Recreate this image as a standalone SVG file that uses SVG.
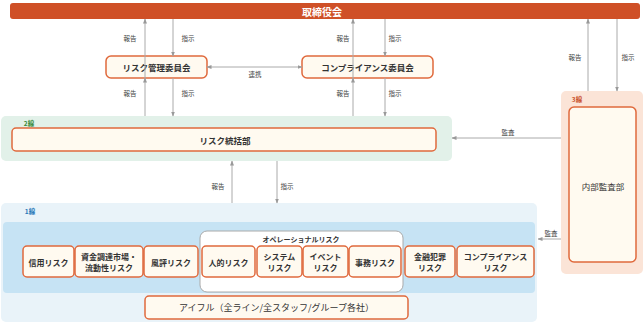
<svg xmlns="http://www.w3.org/2000/svg" width="643" height="324" viewBox="0 0 643 324">
<defs>
<style>
text{font-family:"Noto Sans CJK JP","Noto Sans",sans-serif;text-anchor:middle;dominant-baseline:central;fill:#333}
.box{fill:#fffaf0;stroke:#e0693c;stroke-width:1.5}
.lbl{font-size:6.5px;fill:#444}
.bt{font-size:8.5px;font-weight:700}
.rt{font-size:8px;font-weight:700}
.ln{stroke:#aaa;stroke-width:1;fill:none;marker-end:url(#ah)}
</style>
<marker id="ah" markerWidth="5" markerHeight="5" refX="4.5" refY="2.5" orient="auto-start-reverse" markerUnits="userSpaceOnUse">
<path d="M0,0.5 L5,2.5 L0,4.5 z" fill="#999"/>
</marker>
</defs>
<rect width="643" height="324" fill="#fff"/>

<g id="board">
<rect x="10" y="3" width="630" height="16" rx="3" fill="#cf5027"/>
<text x="322" y="11" style="font-size:10px;font-weight:700;fill:#fff">取締役会</text>
</g>

<g id="line3">
<rect x="561" y="91" width="82" height="183" rx="5" fill="#fbe4d7"/>
<text x="577" y="99" style="font-size:6.5px;font-weight:700;fill:#c9502a">3線</text>
</g>
<g id="audit">
<rect class="box" x="569" y="107" width="67" height="155" rx="5"/>
<text x="603" y="186" style="font-size:8.5px">内部監査部</text>
</g>

<g id="line2">
<rect x="1" y="116" width="451" height="45" rx="5" fill="#e2f1e9"/>
<text x="29" y="123" style="font-size:6.5px;font-weight:700;fill:#3a8a3a">2線</text>
</g>
<g id="riskdept">
<rect class="box" x="12" y="128" width="424" height="23" rx="4"/>
<text x="225" y="139.5" class="bt">リスク統括部</text>
</g>

<g id="line1">
<rect x="1" y="203" width="536" height="119" rx="5" fill="#e9f3f9"/>
<rect x="3" y="222" width="532" height="71" rx="4" fill="#c6e3f4"/>
<text x="30" y="211" style="font-size:6.5px;font-weight:700;fill:#2a78b8">1線</text>
</g>

<g id="oprisk">
<rect x="200" y="231" width="203" height="61" rx="7" fill="#fff" stroke="#aaa" stroke-width="1"/>
<text x="301" y="239" style="font-size:7px;font-weight:700">オペレーショナルリスク</text>
</g>

<g id="rmc">
<rect class="box" x="106" y="56" width="101" height="22" rx="5"/>
<text x="156.5" y="67" class="bt">リスク管理委員会</text>
</g>
<g id="cc">
<rect class="box" x="302" y="56" width="131" height="22" rx="5"/>
<text x="367.5" y="67" class="bt">コンプライアンス委員会</text>
</g>

<g id="r1"><rect class="box" x="23" y="246" width="51" height="31" rx="4"/><text x="48.5" y="262" class="rt">信用リスク</text></g>
<g id="r2"><rect class="box" x="75" y="246" width="68" height="31" rx="4"/><text x="109" y="256.5" class="rt">資金調達市場・</text><text x="109" y="267.5" class="rt">流動性リスク</text></g>
<g id="r3"><rect class="box" x="144" y="246" width="54" height="31" rx="4"/><text x="171" y="262" class="rt">風評リスク</text></g>
<g id="r4"><rect class="box" x="202" y="246" width="53" height="31" rx="4"/><text x="228.5" y="262" class="rt">人的リスク</text></g>
<g id="r5"><rect class="box" x="257" y="246" width="45" height="31" rx="4"/><text x="279.5" y="256.5" class="rt">システム</text><text x="279.5" y="267.5" class="rt">リスク</text></g>
<g id="r6"><rect class="box" x="303" y="246" width="45" height="31" rx="4"/><text x="325.5" y="256.5" class="rt">イベント</text><text x="325.5" y="267.5" class="rt">リスク</text></g>
<g id="r7"><rect class="box" x="349" y="246" width="52" height="31" rx="4"/><text x="375" y="262" class="rt">事務リスク</text></g>
<g id="r8"><rect class="box" x="405" y="246" width="50" height="31" rx="4"/><text x="430" y="256.5" class="rt">金融犯罪</text><text x="430" y="267.5" class="rt">リスク</text></g>
<g id="r9"><rect class="box" x="457" y="246" width="77" height="31" rx="4"/><text x="495.5" y="256.5" class="rt">コンプライアンス</text><text x="495.5" y="267.5" class="rt">リスク</text></g>

<g id="aiful">
<rect class="box" x="145" y="296" width="263" height="23" rx="4"/>
<text x="276.5" y="307.5" style="font-size:9px">アイフル（全ライン/全スタッフ/グループ各社）</text>
</g>

<g id="connectors">
<path class="ln" d="M145,78 V19"/>
<path class="ln" d="M173,19 V56"/>
<path class="ln" d="M145,116 V78"/>
<path class="ln" d="M173,78 V116"/>
<path class="ln" d="M353,78 V19"/>
<path class="ln" d="M385,19 V56"/>
<path class="ln" d="M353,116 V78"/>
<path class="ln" d="M385,78 V116"/>
<path class="ln" d="M588,91 V19"/>
<path class="ln" d="M617,19 V91"/>
<path class="ln" d="M232,203 V161"/>
<path class="ln" d="M277,161 V203"/>
<path class="ln" d="M561,138 H452"/>
<path class="ln" d="M561,239 H538"/>
<path class="ln" d="M207,67 H302" style="marker-start:url(#ah)"/>
<text class="lbl" x="130" y="38">報告</text>
<text class="lbl" x="188" y="38">指示</text>
<text class="lbl" x="130" y="93">報告</text>
<text class="lbl" x="188" y="93">指示</text>
<text class="lbl" x="343" y="38">報告</text>
<text class="lbl" x="395" y="38">指示</text>
<text class="lbl" x="343" y="93">報告</text>
<text class="lbl" x="395" y="93">指示</text>
<text class="lbl" x="575" y="57">報告</text>
<text class="lbl" x="628" y="57">指示</text>
<text class="lbl" x="218" y="186">報告</text>
<text class="lbl" x="287" y="186">指示</text>
<text class="lbl" x="255" y="74">連携</text>
<text class="lbl" x="508" y="132">監査</text>
<text class="lbl" x="551" y="233">監査</text>
</g>
</svg>
